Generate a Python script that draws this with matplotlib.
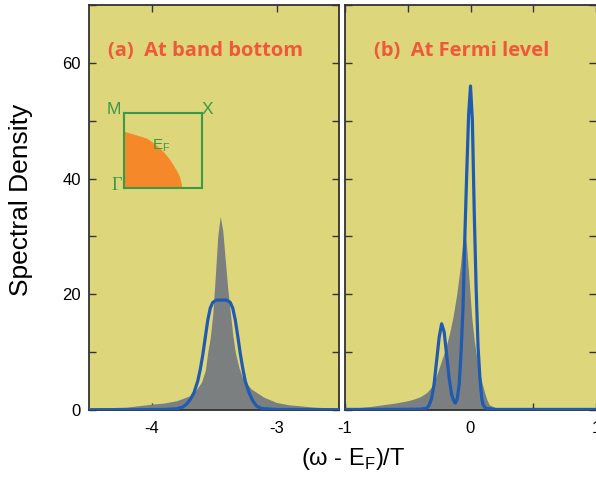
import matplotlib
matplotlib.use("Agg")
import matplotlib.pyplot as plt
from matplotlib.ticker import FixedLocator, FuncFormatter

plt.rcParams['axes.unicode_minus'] = False
plt.rcParams['font.family'] = ['Liberation Sans', 'DejaVu Sans']

# ---- data ----
# panel (a): at band bottom
a_gray_x = [-4.5, -4.2, -4.0, -3.9, -3.8, -3.7, -3.65, -3.6, -3.57, -3.55, -3.53, -3.51, -3.49,
            -3.47, -3.45, -3.43, -3.41, -3.39, -3.37, -3.35, -3.33, -3.30, -3.27, -3.24, -3.2,
            -3.1, -3.0, -2.9, -2.7, -2.5]
a_gray_y = [0.3, 0.5, 1.0, 1.2, 1.6, 2.4, 3.3, 4.8, 6.8, 10.0, 12.5, 16.5, 23.0,
            30.0, 33.5, 31.0, 26.0, 21.0, 17.0, 13.0, 10.0, 7.3, 5.5, 4.6, 3.6,
            2.2, 1.3, 0.9, 0.5, 0.3]
a_blue_x = [-4.5, -4.2, -3.9, -3.8, -3.75, -3.72, -3.69, -3.66, -3.63, -3.61, -3.59, -3.57,
            -3.55, -3.53, -3.51, -3.48, -3.44, -3.40, -3.37, -3.35, -3.33, -3.31, -3.29,
            -3.27, -3.25, -3.22, -3.19, -3.16, -3.12, -3.0, -2.5]
a_blue_y = [0.05, 0.05, 0.1, 0.2, 0.5, 1.0, 1.8, 3.0, 5.0, 7.0, 9.5, 12.5,
            15.5, 17.6, 18.6, 19.0, 19.0, 19.0, 18.6, 17.6, 15.6, 12.8, 9.8,
            7.2, 5.0, 3.0, 1.6, 0.7, 0.25, 0.1, 0.05]

# panel (b): at Fermi level
b_gray_x = [-1.0, -0.9, -0.8, -0.7, -0.6, -0.5, -0.45, -0.4, -0.35, -0.3, -0.25, -0.2, -0.17,
            -0.14, -0.11, -0.08, -0.065, -0.047, -0.03, -0.01, 0.01, 0.03, 0.05, 0.07, 0.09, 0.11,
            0.13, 0.15, 0.2, 0.3, 0.5, 1.0]
b_gray_y = [0.3, 0.4, 0.6, 0.9, 1.2, 1.6, 1.9, 2.3, 3.0, 4.2, 7.3, 10.5, 13.0,
            16.0, 20.0, 25.0, 28.5, 31.3, 28.0, 22.0, 16.0, 12.0, 9.0, 6.8, 4.8, 3.2,
            1.8, 0.9, 0.4, 0.15, 0.05, 0.02]
b_blue_x = [-1.0, -0.6, -0.4, -0.35, -0.33, -0.31, -0.29, -0.27, -0.25, -0.23, -0.21, -0.19,
            -0.17, -0.15, -0.13, -0.12, -0.105, -0.09, -0.075, -0.06, -0.045, -0.03, -0.015,
            0.0, 0.015, 0.03, 0.045, 0.06, 0.075, 0.09, 0.1, 0.12, 0.2, 1.0]
b_blue_y = [0.1, 0.1, 0.15, 0.3, 0.8, 2.0, 4.5, 8.5, 12.5, 14.9, 13.5, 9.5,
            5.5, 2.6, 1.4, 1.2, 2.0, 4.5, 10.0, 17.5, 30.0, 41.0, 51.0,
            56.0, 50.0, 34.0, 21.0, 11.0, 5.5, 2.0, 0.9, 0.3, 0.1, 0.1]

# inset: occupied region of the Brillouin-zone quadrant (Gamma-M-X)
fs_x = [0.0, 0.07, 0.15, 0.29, 0.40, 0.50, 0.58, 0.63, 0.68, 0.71, 0.73, 0.744]
fs_y = [0.756, 0.735, 0.71, 0.665, 0.585, 0.49, 0.39, 0.31, 0.22, 0.156, 0.08, 0.0]

titles = ["(a)  At band bottom", "(b)  At Fermi level"]
xlims = [(-4.5, -2.5), (-1.0, 1.0)]
xticks = [[-4, -3], [-1, -0.5, 0, 0.5, 1]]
yticks = [0, 10, 20, 30, 40, 50, 60, 70]

BG = '#DED67A'
GRAY = '#7B7F80'
BLUE = '#1F5BB0'
ORANGE_T = '#F0583A'
GREEN = '#3A9A48'
ORANGE_F = '#F5892A'
SPINE = '#333333'

fig = plt.figure(figsize=(5.96, 4.84), dpi=100)
W, H = 596.0, 484.0
ax1 = fig.add_axes([89 / W, 74 / H, 250 / W, 405 / H])
ax2 = fig.add_axes([345 / W, 74 / H, 251 / W, 405 / H])

data = [(a_gray_x, a_gray_y, a_blue_x, a_blue_y), (b_gray_x, b_gray_y, b_blue_x, b_blue_y)]
for i, ax in enumerate([ax1, ax2]):
    gx, gy, bx, by = data[i]
    ax.set_facecolor(BG)
    ax.fill_between(gx, 0, gy, color=GRAY, lw=0, zorder=2)
    ax.plot(bx, by, color=BLUE, lw=2.3, zorder=3, solid_joinstyle='round')
    ax.set_xlim(*xlims[i])
    ax.set_ylim(0, 70)
    ax.xaxis.set_major_locator(FixedLocator(xticks[i]))
    ax.yaxis.set_major_locator(FixedLocator(yticks))
    ax.xaxis.set_major_formatter(FuncFormatter(
        lambda v, p: ('%d' % round(v)) if abs(v - round(v)) < 1e-6 else ''))
    ax.tick_params(direction='in', length=5, width=1.0, color=SPINE,
                   top=True, right=True, labelsize=12, pad=8)
    for s in ax.spines.values():
        s.set_color(SPINE)
        s.set_linewidth(1.3)
    ax.text(0.076 if i == 0 else 0.1155, 0.886, titles[i], transform=ax.transAxes,
            color=ORANGE_T, fontsize=14.5, fontweight='bold', family='Open Sans',
            ha='left', va='center', zorder=5)

ax1.yaxis.set_major_formatter(FuncFormatter(
    lambda v, p: ('%d' % v) if int(round(v)) % 20 == 0 and v < 70 else ''))
ax1.tick_params(axis='y', pad=6)
ax2.tick_params(axis='y', labelleft=False)
ax2.spines['right'].set_visible(False)

# inset: Brillouin zone quadrant
ins = fig.add_axes([124 / W, 1 - 188 / H, 78 / W, 75 / H])
ins.patch.set_alpha(0)
ins.fill_between(fs_x, 0, fs_y, color=ORANGE_F, lw=0)
ins.set_xlim(0, 1)
ins.set_ylim(0, 1)
ins.set_xticks([])
ins.set_yticks([])
for s in ins.spines.values():
    s.set_color(GREEN)
    s.set_linewidth(1.5)
ins.text(-0.04, 1.05, 'M', color=GREEN, fontsize=12.5, ha='right', va='center', transform=ins.transAxes)
ins.text(1.0, 1.05, 'X', color=GREEN, fontsize=12.5, ha='left', va='center', transform=ins.transAxes)
ins.text(-0.03, 0.03, 'Γ', color=GREEN, fontsize=13, ha='right', va='center',
         family='Liberation Serif', transform=ins.transAxes)
ins.text(0.48, 0.56, r'E$_\mathregular{F}$', color=GREEN, fontsize=11, ha='center', va='center',
         transform=ins.transAxes)

fig.text(21 / W, 1 - 200 / H, 'Spectral Density', rotation=90, fontsize=19,
         ha='center', va='center')
fig.text(353 / W, 1 - 459 / H, r'(ω - E$_\mathregular{F}$)/T', fontsize=17,
         ha='center', va='center')

fig.savefig('out.png', dpi=100, facecolor='white')
